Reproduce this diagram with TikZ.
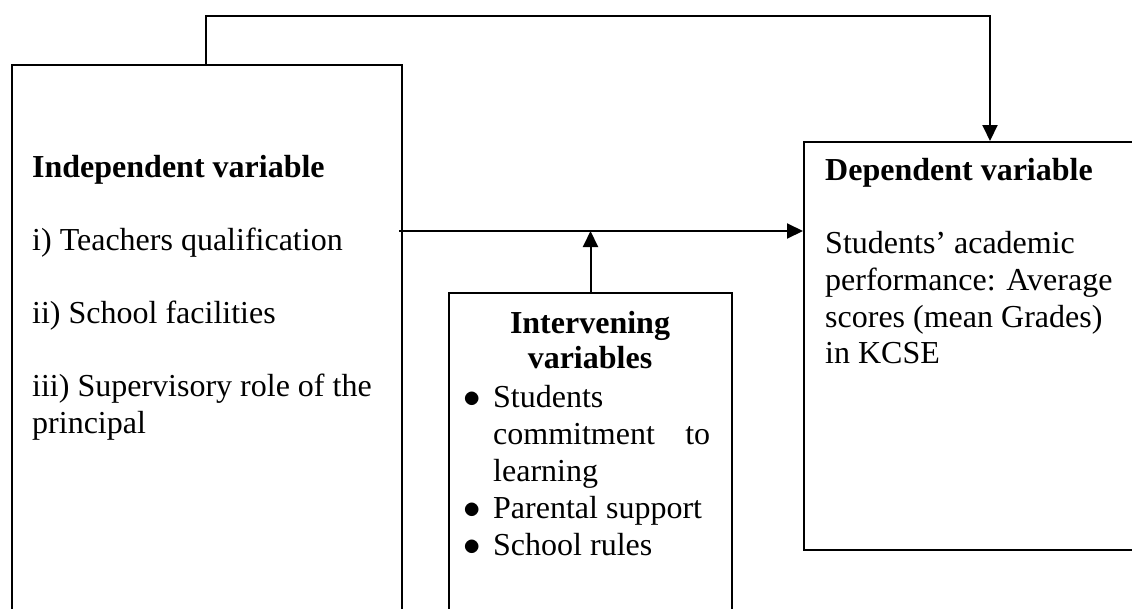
\documentclass[tikz,border=0pt]{standalone}
\usepackage{graphicx}
\usepackage{fontspec}
\setmainfont{Liberation Serif}
\usetikzlibrary{arrows.meta,calc}
\tikzset{
  box/.style={draw=black, line width=2pt, inner sep=0pt, anchor=north west},
  txt/.style={inner sep=0pt, anchor=base west, font=\fontsize{32pt}{37pt}\selectfont},
  ctxt/.style={inner sep=0pt, anchor=base, font=\fontsize{32pt}{37pt}\selectfont\bfseries},
  conn/.style={draw=black, line width=2pt},
  arr/.style={conn, -{Triangle[length=16pt,width=15pt]}}
}
\newcommand{\bigbul}{\scalebox{1.4}{$\bullet$}}
\begin{document}
\begin{tikzpicture}[x=1pt,y=-1pt]
\useasboundingbox (0,0) rectangle (1132,608);
\clip (0,0) rectangle (1132,608);
% boxes
\node[box, minimum width=390pt, minimum height=590pt] (ind) at (11,64) {};
\node[box, minimum width=372pt, minimum height=408pt] (dep) at (803,141) {};
\node[box, minimum width=283pt, minimum height=360pt] (int) at (448,292) {};
% left box text
\node[txt, font=\fontsize{32pt}{37pt}\selectfont\bfseries] (indh) at (32,177) {Independent variable};
\node[txt] (ind1) at (32,250) {i) Teachers qualification};
\node[txt] (ind2) at (32,323) {ii) School facilities};
\node[txt] (ind3) at (32,396) {iii) Supervisory role of the};
\node[txt] (ind4) at (32,433) {principal};
% dependent box text
\node[txt, font=\fontsize{32pt}{37pt}\selectfont\bfseries] (deph) at (825,180) {Dependent variable};
\node[txt] (dep1) at (825,253) {Students’ academic};
\node[txt] (dep2) at (825,290) {performance: Average};
\node[txt] (dep3) at (825,327) {scores (mean Grades)};
\node[txt] (dep4) at (825,363) {in KCSE};
% intervening box text
\node[ctxt] (inth1) at (590,333) {Intervening};
\node[ctxt] (inth2) at (590,368) {variables};
\node[txt] (b1) at (463,407) {\bigbul};
\node[txt] (i1) at (493,407) {Students};
\node[txt] (i2) at (493,444) {\hbox to 217pt{commitment\hfill to}};
\node[txt] (i3) at (493,481) {learning};
\node[txt] (b2) at (463,518) {\bigbul};
\node[txt] (i4) at (493,518) {Parental support};
\node[txt] (b3) at (463,555) {\bigbul};
\node[txt] (i5) at (493,555) {School rules};
% connectors
\coordinate (fb) at (206,64);
\coordinate (fbtop) at (206,16);
\draw[arr] (fb) -- (fbtop) -| (dep.north);
\coordinate (mid) at (399,231);
\draw[arr] (mid) -- (mid -| dep.west);
\draw[arr] (int.north) -- (int.north |- mid);
\end{tikzpicture}
\end{document}
